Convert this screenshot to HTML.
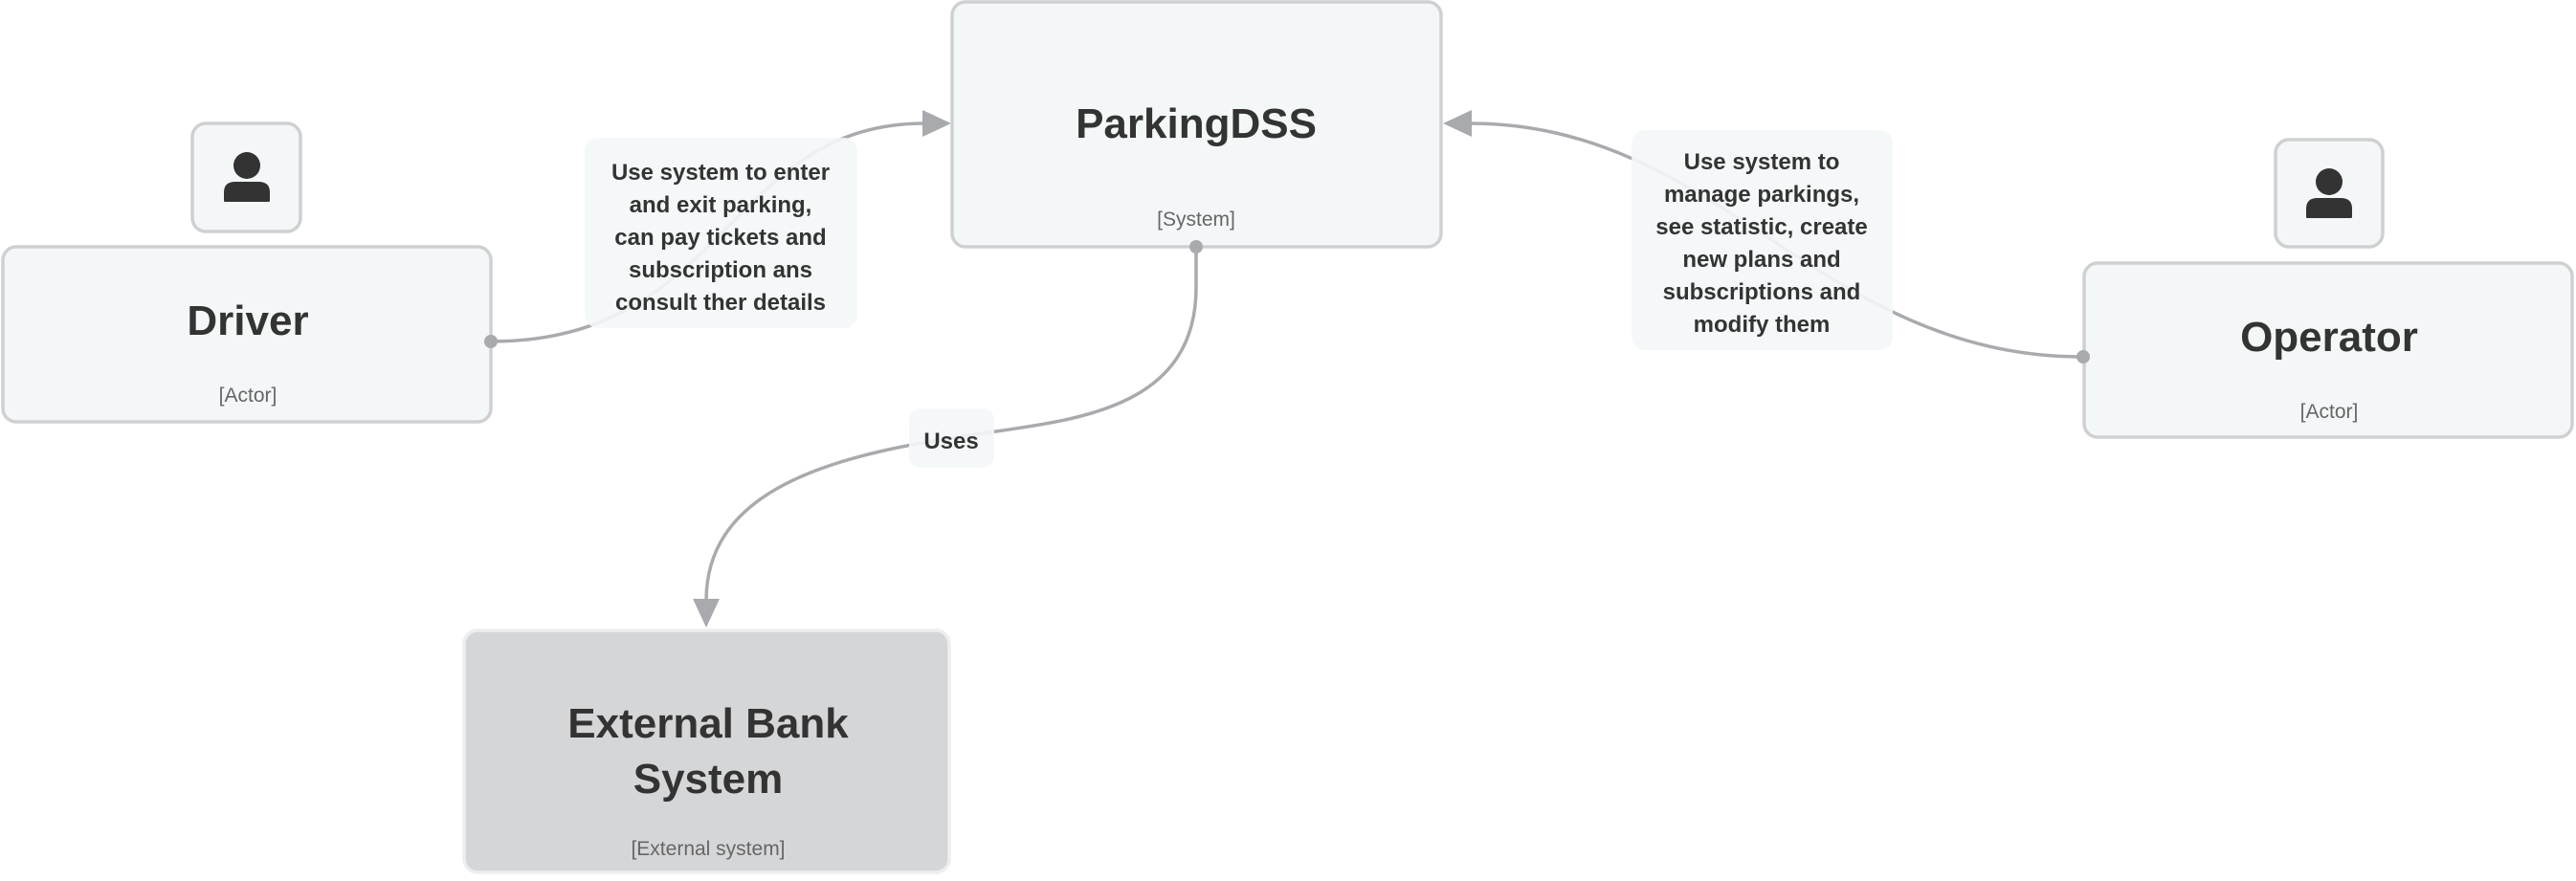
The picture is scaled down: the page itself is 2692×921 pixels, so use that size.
<!DOCTYPE html>
<html><head><meta charset="utf-8"><style>
html,body{margin:0;padding:0;background:#fff;}
svg text{font-family:"Liberation Sans",sans-serif;}
</style></head><body>
<svg width="2692" height="916" viewBox="0 0 2692 916" xmlns="http://www.w3.org/2000/svg">
<defs>
<g id="person"><circle cx="0" cy="0" r="14" fill="#333"/><path d="M-24 37 L-24 28 Q-24 17 -12 17 L12 17 Q24 17 24 28 L24 37 Q24 38 22 38 L-22 38 Q-24 38 -24 37 Z" fill="#333"/></g>
</defs>
<g fill="none" stroke="#a8aaad" stroke-width="3.5">
<path d="M513 357 C760 357, 760 129, 966 129"/>
<path d="M2177 373 C1900 373, 1800 129, 1536 129"/>
<path d="M1250 258 L1250 300 C1250 440, 1100 440, 994 458 C850 480, 738 520, 738 628"/>
</g>
<g fill="#a8aaad">
<polygon points="994,129 964,115 964,143"/>
<polygon points="1508,129 1538,115 1538,143"/>
<polygon points="738,656 724,626 752,626"/>
</g>
<!-- boxes -->
<g stroke="#cfd0d1" stroke-width="3.5" fill="#f4f7f8">
<rect x="201" y="129" width="113" height="113" rx="14"/>
<rect x="2378" y="146" width="112" height="112" rx="14"/>
<rect x="3" y="258" width="510" height="183" rx="14"/>
<rect x="995" y="2" width="511" height="256" rx="14"/>
<rect x="2178" y="275" width="510" height="182" rx="14"/>
<rect x="485" y="659" width="507" height="253" rx="14" fill="#d5d6d8" stroke="#eceeef"/>
</g>
<g fill="#a8aaad">
<circle cx="513" cy="357" r="7"/><circle cx="2177" cy="373" r="7"/><circle cx="1250" cy="258" r="7"/>
</g>
<use href="#person" x="258" y="173"/>
<use href="#person" x="2434" y="190"/>
<g fill="#333" font-weight="bold" text-anchor="middle" font-size="44">
<text x="259" y="350">Driver</text>
<text x="1250" y="144">ParkingDSS</text>
<text x="2434" y="367">Operator</text>
<text x="740" y="771">External Bank</text>
<text x="740" y="829">System</text>
</g>
<g fill="#666" text-anchor="middle" font-size="21">
<text x="259" y="420">[Actor]</text>
<text x="1250" y="236">[System]</text>
<text x="2434" y="437">[Actor]</text>
<text x="740" y="894">[External system]</text>
</g>
<!-- labels -->
<g fill="#f4f7f8" fill-opacity="0.9">
<rect x="611" y="144" width="285" height="199" rx="14"/>
<rect x="1705" y="136" width="273" height="230" rx="14"/>
<rect x="950" y="427" width="89" height="62" rx="12"/>
</g>
<g fill="#333" font-weight="bold" text-anchor="middle" font-size="24">
<text x="753" y="188">Use system to enter</text>
<text x="753" y="222">and exit parking,</text>
<text x="753" y="256">can pay tickets and</text>
<text x="753" y="290">subscription ans</text>
<text x="753" y="324">consult ther details</text>
<text x="1841" y="177">Use system to</text>
<text x="1841" y="211">manage parkings,</text>
<text x="1841" y="245">see statistic, create</text>
<text x="1841" y="279">new plans and</text>
<text x="1841" y="313">subscriptions and</text>
<text x="1841" y="347">modify them</text>
<text x="994" y="469">Uses</text>
</g>
</svg>
</body></html>
